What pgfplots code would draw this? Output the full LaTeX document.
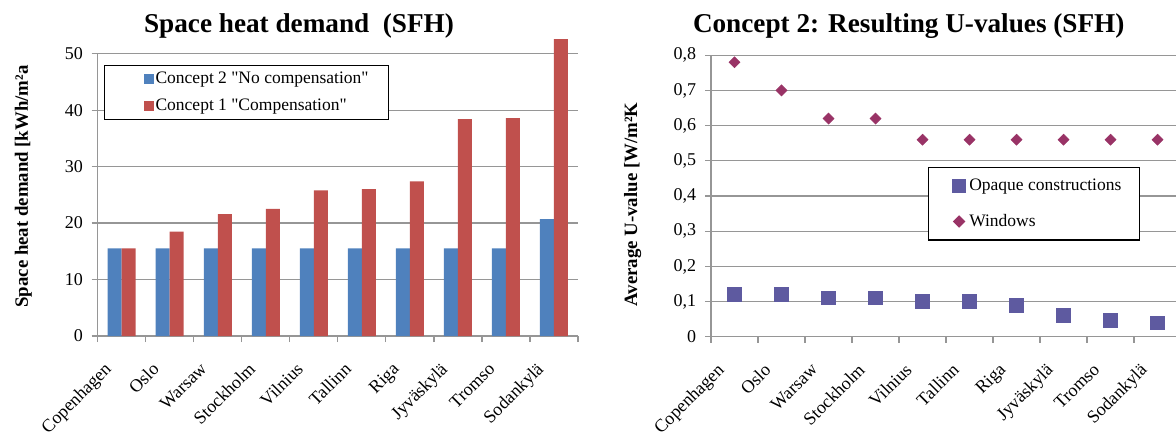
\documentclass[border=0pt]{standalone}
\usepackage{pgfplots}
\pgfplotsset{compat=1.18}
\usepackage{fontspec}
\setmainfont{Liberation Serif}
\definecolor{barblue}{RGB}{79,129,189}
\definecolor{barred}{RGB}{192,80,77}
\definecolor{sqcol}{RGB}{94,90,160}
\definecolor{diacol}{RGB}{153,51,102}
\definecolor{gridgray}{RGB}{150,150,150}
\begin{document}
\begin{tikzpicture}
\useasboundingbox (0,0) rectangle (588pt,217.5pt);
\begin{axis}[
  at={(48.85pt,49.5pt)}, anchor=south west,
  scale only axis, width=240.15pt, height=141.15pt,
  xmin=-0.5, xmax=9.5, ymin=0, ymax=50, clip=false,
  ybar=0pt, bar width=7pt,
  axis x line*=bottom, axis y line*=left,
  axis line style={draw=gridgray, line width=0.6pt},
  xtick={-0.5,0.5,1.5,2.5,3.5,4.5,5.5,6.5,7.5,8.5,9.5}, x tick label as interval,
  xticklabels={Copenhagen,Oslo,Warsaw,Stockholm,Vilnius,Tallinn,Riga,Jyväskylä,Tromso,Sodankylä},
  xticklabel style={xshift=-9.24pt, yshift=-9.5pt, rotate=45, anchor=north east, inner sep=0pt, font=\fontsize{9}{11}\selectfont},
  ytick={0,10,20,30,40,50}, yticklabels={0,10,20,30,40,50},
  yticklabel style={inner sep=0pt, xshift=-4.2pt, font=\fontsize{9}{10}\selectfont},
  ymajorgrids, grid style={draw=gridgray, line width=0.6pt},
  tick align=outside, major tick length=3pt, tick style={draw=gridgray, line width=0.6pt},
  legend style={at={(0.013,0.96)}, anchor=north west, draw=black, line width=0.6pt, fill=white,
    inner xsep=0pt, inner ysep=2.25pt, row sep=5.35pt, font=\fontsize{8.75}{10}\selectfont,
    nodes={inner sep=0pt, text height=6.5pt, text depth=2pt}, cells={anchor=west}},
]
\addplot[fill=barblue, draw=none, legend image code/.code={\path[draw=none,fill=none] (0pt,0pt) (25.5pt,0pt); \fill[barblue] (19.5pt,-2.5pt) rectangle (24.5pt,2.5pt);}]
  coordinates {(0,15.5) (1,15.5) (2,15.5) (3,15.5) (4,15.5) (5,15.5) (6,15.5) (7,15.5) (8,15.5) (9,20.7)};
\addlegendentry{Concept 2 \textquotedbl No compensation\textquotedbl\hspace*{10pt}}
\addplot[fill=barred, draw=none, legend image code/.code={\path[draw=none,fill=none] (0pt,0pt) (25.5pt,0pt); \fill[barred] (19.5pt,-2.5pt) rectangle (24.5pt,2.5pt);}]
  coordinates {(0,15.5) (1,18.5) (2,21.6) (3,22.5) (4,25.8) (5,26.0) (6,27.4) (7,38.4) (8,38.6) (9,52.6)};
\addlegendentry{Concept 1 \textquotedbl Compensation\textquotedbl}
\end{axis}

\begin{axis}[
  at={(355.5pt,49.1pt)}, anchor=south west,
  scale only axis, width=235pt, height=140.8pt,
  xmin=-0.5, xmax=9.5, ymin=0, ymax=0.8, clip=false,
  axis x line*=bottom, axis y line*=left,
  axis line style={draw=gridgray, line width=0.6pt},
  xtick={-0.5,0.5,1.5,2.5,3.5,4.5,5.5,6.5,7.5,8.5,9.5}, x tick label as interval,
  xticklabels={Copenhagen,Oslo,Warsaw,Stockholm,Vilnius,Tallinn,Riga,Jyväskylä,Tromso,Sodankylä},
  xticklabel style={xshift=-9.24pt, yshift=-9.5pt, rotate=45, anchor=north east, inner sep=0pt, font=\fontsize{9}{11}\selectfont},
  ytick={0,0.1,0.2,0.3,0.4,0.5,0.6,0.7,0.8}, yticklabels={0,{0,1},{0,2},{0,3},{0,4},{0,5},{0,6},{0,7},{0,8}},
  yticklabel style={inner sep=0pt, xshift=-4.2pt, font=\fontsize{9}{10}\selectfont},
  ymajorgrids, grid style={draw=gridgray, line width=0.6pt},
  tick align=outside, major tick length=3pt, tick style={draw=gridgray, line width=0.6pt},
  legend style={at={(0.461,0.604)}, anchor=north west, draw=black, line width=0.6pt, fill=white,
    inner xsep=0pt, inner ysep=5pt, row sep=9.35pt, font=\fontsize{8.75}{10}\selectfont,
    nodes={inner sep=0pt, text height=6.5pt, text depth=2pt}, cells={anchor=west}},
]
\addplot[only marks, mark=square*, mark size=3.4pt, color=sqcol,
  legend image code/.code={\path[draw=none,fill=none] (0pt,0pt) (20.5pt,0pt); \draw[only marks, mark=square*, mark size=3.25pt, color=sqcol] plot coordinates {(15.4pt,0pt)};}]
  coordinates {(0,0.12) (1,0.12) (2,0.11) (3,0.11) (4,0.10) (5,0.10) (6,0.09) (7,0.06) (8,0.047) (9,0.04)};
\addlegendentry{Opaque constructions\hspace*{9pt}}
\addplot[only marks, mark=square*, mark size=1.9pt, mark options={rotate=45}, color=diacol,
  legend image code/.code={\path[draw=none,fill=none] (0pt,0pt) (20.5pt,0pt); \draw[only marks, mark=square*, mark size=1.9pt, mark options={rotate=45}, color=diacol] plot coordinates {(15.4pt,0pt)};}]
  coordinates {(0,0.78) (1,0.70) (2,0.62) (3,0.62) (4,0.56) (5,0.56) (6,0.56) (7,0.56) (8,0.56) (9,0.56)};
\addlegendentry{Windows}
\end{axis}

\node[anchor=base, font=\fontsize{13.6}{16}\selectfont\bfseries] at (149.5pt,201pt) {Space heat demand\ \ (SFH)};
\node[anchor=base, font=\fontsize{13.6}{16}\selectfont\bfseries] at (454.35pt,201pt) {Concept 2: Resulting U-values (SFH)};
\node[rotate=90, anchor=base, font=\fontsize{9.4}{11}\selectfont\bfseries] at (14pt,124.25pt) {Space heat demand [kWh/m²a};
\node[rotate=90, anchor=base, font=\fontsize{9.4}{11}\selectfont\bfseries] at (318.5pt,115.25pt) {Average U-value [W/m²K};
\end{tikzpicture}
\end{document}
